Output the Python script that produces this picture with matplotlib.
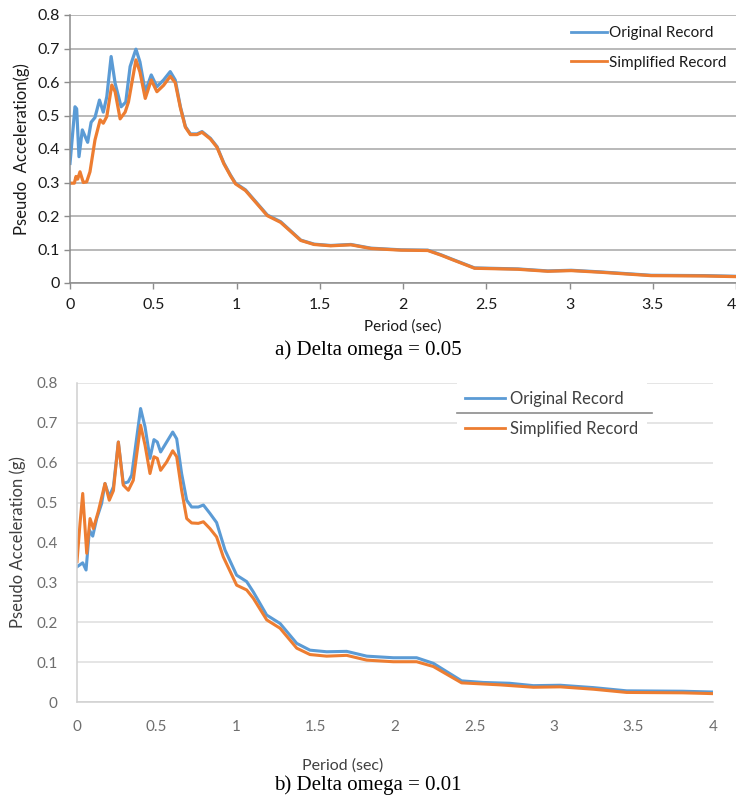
import matplotlib
matplotlib.use("Agg")
import matplotlib.pyplot as plt
from matplotlib.lines import Line2D

# ---------------- data ----------------
period_a_orig = [0, 0.03, 0.04, 0.054, 0.074, 0.106, 0.127, 0.15, 0.177, 0.2, 0.221, 0.247, 0.271, 0.307,
                 0.335, 0.361, 0.396, 0.42, 0.452, 0.488, 0.522, 0.562, 0.602, 0.632, 0.663, 0.693, 0.723,
                 0.763, 0.793, 0.843, 0.883, 0.924, 0.964, 0.994, 1.054, 1.185, 1.265, 1.386, 1.466, 1.566,
                 1.687, 1.807, 1.988, 2.149, 2.229, 2.3, 2.43, 2.69, 2.87, 3.01, 3.19, 3.49, 3.81, 4.0]
accel_a_orig = [0.357, 0.526, 0.52, 0.377, 0.457, 0.42, 0.48, 0.494, 0.546, 0.51, 0.556, 0.676, 0.596, 0.526,
                0.54, 0.646, 0.698, 0.66, 0.571, 0.621, 0.586, 0.606, 0.631, 0.606, 0.526, 0.467, 0.445,
                0.445, 0.452, 0.432, 0.407, 0.358, 0.322, 0.298, 0.278, 0.203, 0.183, 0.128, 0.116, 0.112,
                0.115, 0.104, 0.099, 0.098, 0.084, 0.07, 0.045, 0.042, 0.036, 0.038, 0.033, 0.023, 0.022, 0.02]

period_a_simp = [0, 0.026, 0.036, 0.046, 0.06, 0.08, 0.1, 0.12, 0.15, 0.181, 0.2, 0.221, 0.251, 0.271, 0.301,
                 0.331, 0.351, 0.396, 0.42, 0.452, 0.488, 0.522, 0.562, 0.602, 0.632, 0.663, 0.693, 0.723,
                 0.763, 0.793, 0.843, 0.883, 0.924, 0.964, 0.994, 1.054, 1.185, 1.265, 1.386, 1.466, 1.566,
                 1.687, 1.807, 1.988, 2.149, 2.229, 2.3, 2.43, 2.69, 2.87, 3.01, 3.19, 3.49, 3.81, 4.0]
accel_a_simp = [0.298, 0.298, 0.318, 0.31, 0.332, 0.30, 0.302, 0.332, 0.427, 0.487, 0.477, 0.497, 0.591, 0.571,
                0.49, 0.51, 0.54, 0.666, 0.63, 0.551, 0.606, 0.571, 0.59, 0.617, 0.598, 0.523, 0.465, 0.443,
                0.443, 0.45, 0.43, 0.405, 0.356, 0.32, 0.296, 0.276, 0.201, 0.181, 0.127, 0.115, 0.111,
                0.114, 0.103, 0.098, 0.097, 0.083, 0.069, 0.044, 0.041, 0.035, 0.037, 0.032, 0.022, 0.021, 0.019]

period_b_orig = [0, 0.036, 0.057, 0.078, 0.099, 0.124, 0.155, 0.176, 0.203, 0.229, 0.26, 0.291, 0.322, 0.344,
                 0.4, 0.428, 0.459, 0.484, 0.505, 0.526, 0.564, 0.602, 0.627, 0.658, 0.69, 0.721, 0.763,
                 0.795, 0.836, 0.878, 0.931, 1.004, 1.067, 1.109, 1.193, 1.277, 1.382, 1.465, 1.57, 1.696,
                 1.822, 1.989, 2.136, 2.241, 2.419, 2.555, 2.72, 2.87, 3.04, 3.25, 3.457, 3.81, 4.0]
accel_b_orig = [0.339, 0.349, 0.331, 0.431, 0.416, 0.46, 0.498, 0.548, 0.515, 0.54, 0.652, 0.548, 0.552, 0.569,
                0.736, 0.69, 0.611, 0.658, 0.652, 0.627, 0.652, 0.677, 0.66, 0.573, 0.506, 0.489, 0.489,
                0.494, 0.473, 0.45, 0.381, 0.318, 0.302, 0.276, 0.218, 0.197, 0.147, 0.130, 0.126, 0.127,
                0.115, 0.111, 0.111, 0.097, 0.053, 0.049, 0.047, 0.041, 0.042, 0.036, 0.028, 0.027, 0.025]

period_b_simp = [0, 0.019, 0.036, 0.05, 0.061, 0.082, 0.103, 0.134, 0.176, 0.203, 0.229, 0.26, 0.291, 0.323,
                 0.354, 0.4, 0.428, 0.459, 0.484, 0.505, 0.526, 0.564, 0.602, 0.627, 0.658, 0.69, 0.721,
                 0.763, 0.795, 0.836, 0.878, 0.92, 1.004, 1.067, 1.109, 1.193, 1.277, 1.382, 1.465, 1.57,
                 1.696, 1.822, 1.989, 2.136, 2.241, 2.419, 2.66, 2.87, 3.04, 3.25, 3.457, 3.81, 4.0]
accel_b_simp = [0.352, 0.448, 0.523, 0.44, 0.373, 0.46, 0.435, 0.478, 0.548, 0.506, 0.53, 0.652, 0.544, 0.531,
                0.556, 0.694, 0.644, 0.573, 0.615, 0.611, 0.581, 0.602, 0.63, 0.615, 0.531, 0.46, 0.449,
                0.448, 0.452, 0.435, 0.414, 0.364, 0.293, 0.281, 0.26, 0.206, 0.185, 0.135, 0.119, 0.115,
                0.117, 0.105, 0.101, 0.101, 0.089, 0.048, 0.043, 0.037, 0.038, 0.032, 0.024, 0.023, 0.021]

x_ticks = [0, 0.5, 1, 1.5, 2, 2.5, 3, 3.5, 4]
x_tick_labels = ["0", "0.5", "1", "1.5", "2", "2.5", "3", "3.5", "4"]
y_ticks = [0, 0.1, 0.2, 0.3, 0.4, 0.5, 0.6, 0.7, 0.8]
y_tick_labels = ["0", "0.1", "0.2", "0.3", "0.4", "0.5", "0.6", "0.7", "0.8"]
series_names = ["Original Record", "Simplified Record"]
captions = ["a) Delta omega = 0.05", "b) Delta omega = 0.01"]

BLUE = "#5B9BD5"
ORANGE = "#ED7D31"
SANS = ["Lato", "DejaVu Sans"]
SERIF = ["Liberation Serif", "DejaVu Serif"]

W, H = 736, 801
fig = plt.figure(figsize=(W / 100, H / 100), dpi=100)


def rect(l, t, r, b):
    return [l / W, 1 - b / H, (r - l) / W, (b - t) / H]


# ---------------- top chart ----------------
ax1 = fig.add_axes(rect(70, 15, 736, 283))
ax1.plot(period_a_orig, accel_a_orig, color=BLUE, lw=2.3, label=series_names[0], solid_joinstyle="round")
ax1.plot(period_a_simp, accel_a_simp, color=ORANGE, lw=2.3, label=series_names[1], solid_joinstyle="round")
ax1.set_xlim(0, 4)
ax1.set_ylim(0, 0.8)
ax1.set_xticks(x_ticks)
ax1.set_xticklabels(x_tick_labels)
ax1.set_yticks(y_ticks)
ax1.set_yticklabels(y_tick_labels)
ax1.grid(axis="y", color="#a6a6a6", lw=1.1)
ax1.set_axisbelow(True)
for s in ["top", "right"]:
    ax1.spines[s].set_visible(False)
for s in ["left", "bottom"]:
    ax1.spines[s].set_color("#8c8c8c")
    ax1.spines[s].set_linewidth(1.1)
ax1.tick_params(axis="both", colors="#8c8c8c", length=4, width=1, labelcolor="#1a1a1a", labelsize=11.5)
ax1.tick_params(axis="x", pad=7)
for lbl in ax1.get_xticklabels() + ax1.get_yticklabels():
    lbl.set_family(SANS)
# the last x label sits at the figure edge; anchor it to its right side so it stays visible
last = ax1.get_xticklabels()[-1]
last.set_horizontalalignment("right")
ax1.set_ylabel("Pseudo  Acceleration(g)", family=SANS, fontsize=12, color="#1a1a1a", labelpad=5)
ax1.set_xlabel("Period (sec)", family=SANS, fontsize=11, color="#1a1a1a", labelpad=5)
leg1 = ax1.legend(loc="center left", bbox_to_anchor=(563 / W, 1 - 48 / H), bbox_transform=fig.transFigure,
                  frameon=False, handlelength=2.4, handletextpad=0.1, labelspacing=1.0, borderpad=0,
                  prop={"family": SANS, "size": 11})
for t in leg1.get_texts():
    t.set_color("#1a1a1a")
for h in leg1.get_lines():
    h.set_linewidth(2)

# ---------------- bottom chart ----------------
ax2 = fig.add_axes(rect(77, 383, 713, 702))
ax2.plot(period_b_orig, accel_b_orig, color=BLUE, lw=2.2, label=series_names[0], solid_joinstyle="round")
ax2.plot(period_b_simp, accel_b_simp, color=ORANGE, lw=2.2, label=series_names[1], solid_joinstyle="round")
ax2.set_xlim(0, 4)
ax2.set_ylim(0, 0.8)
ax2.set_xticks(x_ticks)
ax2.set_xticklabels(x_tick_labels)
ax2.set_yticks(y_ticks)
ax2.set_yticklabels(y_tick_labels)
ax2.grid(axis="y", color="#dedede", lw=1.1)
ax2.set_axisbelow(True)
for s in ["top", "right"]:
    ax2.spines[s].set_visible(False)
for s in ["left", "bottom"]:
    ax2.spines[s].set_color("#d0d0d0")
    ax2.spines[s].set_linewidth(1.1)
ax2.tick_params(axis="both", length=0, labelcolor="#6e6e6e", labelsize=11)
ax2.tick_params(axis="x", pad=13)
ax2.tick_params(axis="y", pad=14)
for lbl in ax2.get_xticklabels() + ax2.get_yticklabels():
    lbl.set_family(SANS)
ax2.set_ylabel("Pseudo Acceleration (g)", family=SANS, fontsize=12, color="#404040", labelpad=7)
leg2 = ax2.legend(loc="center left", bbox_to_anchor=(457 / W, 1 - 414 / H), bbox_transform=fig.transFigure,
                  frameon=True, facecolor="white", edgecolor="none", framealpha=1, fancybox=False,
                  handlelength=2.4, handletextpad=0.3, labelspacing=0.85, borderpad=0.5, borderaxespad=0,
                  prop={"family": SANS, "size": 12})
for t in leg2.get_texts():
    t.set_color("#404040")
for h in leg2.get_lines():
    h.set_linewidth(2)
fig.add_artist(Line2D([457 / W, 652 / W], [1 - 413 / H, 1 - 413 / H], color="#8c8c8c", lw=1.2))

fig.text(343 / W, 1 - 766 / H, "Period (sec)", family=SANS, fontsize=11.5, color="#404040",
         ha="center", va="center")

# ---------------- captions ----------------
fig.text(368 / W, 1 - 350 / H, captions[0], family=SERIF, fontsize=15, color="black", ha="center", va="center")
fig.text(368 / W, 1 - 785 / H, captions[1], family=SERIF, fontsize=15, color="black", ha="center", va="center")

fig.savefig("out.png", dpi=100)
